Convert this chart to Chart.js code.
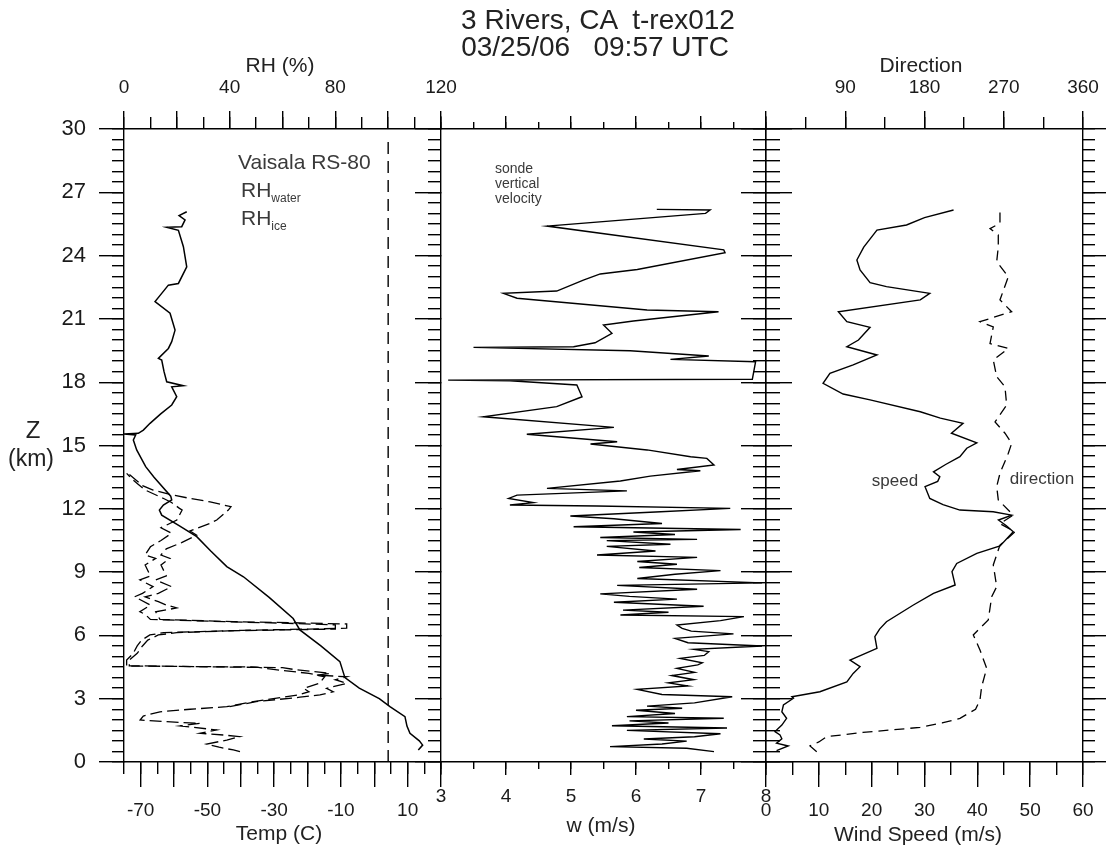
<!DOCTYPE html>
<html>
<head>
<meta charset="utf-8">
<script src="https://cdn.jsdelivr.net/npm/chart.js@4.4.1/dist/chart.umd.min.js"></script>
<style>
  body { margin: 0; background: #fff; }
  #wrap { position: relative; width: 1106px; height: 846px; font-family: "Liberation Sans", Arial, sans-serif; color: #222; }
  #wrap canvas { position: absolute; left: 0; top: 0; }
  .t { position: absolute; white-space: pre; line-height: 1; transform: translate(-50%, -50%); }
  .n { position: absolute; white-space: pre; line-height: 1; color: #3a3a3a; }
  .n sub { font-size: 12px; vertical-align: -5px; }
</style>
</head>
<body>
<div id="wrap">
  <canvas id="leftPanel" width="1106" height="846"></canvas>
  <canvas id="midPanel" width="1106" height="846"></canvas>
  <canvas id="rightPanel" width="1106" height="846"></canvas>

  <div class="t" style="left:598px;top:20px;font-size:28px;">3 Rivers, CA  t-rex012</div>
  <div class="t" style="left:595px;top:47px;font-size:28px;">03/25/06   09:57 UTC</div>
  <div class="t" style="left:280px;top:64px;font-size:21px;">RH (%)</div>
  <div class="t" style="left:921px;top:64px;font-size:21px;">Direction</div>
  <div class="t" style="left:279px;top:832px;font-size:21px;">Temp (C)</div>
  <div class="t" style="left:601px;top:824px;font-size:21px;">w (m/s)</div>
  <div class="t" style="left:918px;top:833px;font-size:21px;">Wind Speed (m/s)</div>
  <div class="t" style="left:33px;top:430px;font-size:24px;">Z</div>
  <div class="t" style="left:31px;top:458px;font-size:23px;">(km)</div>

  <div class="n" style="left:238px;top:151px;font-size:21px;">Vaisala RS-80</div>
  <div class="n" style="left:241px;top:179px;font-size:21px;">RH<sub>water</sub></div>
  <div class="n" style="left:241px;top:207px;font-size:21px;">RH<sub>ice</sub></div>
  <div class="n" style="left:495px;top:161px;font-size:14px;line-height:15px;">sonde
vertical
velocity</div>
  <div class="t" style="left:895px;top:480px;font-size:17px;color:#3a3a3a;">speed</div>
  <div class="t" style="left:1042px;top:478px;font-size:17px;color:#3a3a3a;">direction</div>
</div>

<script>
// sounding profiles: heights in km, values per series
const tempZ = [0.57, 0.8, 1.0, 1.36, 1.7, 2.15, 2.62, 3.0, 3.5, 4.0, 4.76, 5.5, 6.26, 6.8, 7.8, 8.78, 9.26, 10.0, 10.68, 11.2, 11.7, 11.94, 12.18, 12.42, 12.6, 13.5, 14.0, 14.79, 15.26, 15.5, 15.55, 15.58, 15.73, 16.05, 16.5, 16.92, 17.31, 17.78, 17.83, 18.02, 18.5, 19.05, 19.13, 19.6, 19.92, 20.47, 21.27, 21.82, 22.21, 22.6, 22.68, 23.47, 24.42, 25.2, 25.34, 25.37, 25.69, 25.9, 26.08];
const tempC = [13.2, 14.5, 13.5, 10.7, 9.8, 9.2, 4.7, 1.5, -4.5, -8.8, -10.3, -16, -22.3, -24.3, -31.5, -39.2, -44.2, -49, -53.2, -58.5, -63.7, -64.4, -63.2, -60.7, -61, -66, -68.5, -71.2, -72.2, -71.5, -75, -70.7, -69.2, -67.2, -64, -60.7, -59.2, -60.7, -57.2, -62.2, -63, -63.7, -64.7, -61.7, -60.7, -59.7, -61.2, -65.7, -63.7, -61.7, -58.7, -56.2, -57.2, -58.7, -62.2, -57.7, -56.7, -58.5, -56.2];

const rhWaterZ = [0.49, 0.57, 0.7, 0.85, 1.04, 1.2, 1.28, 1.36, 1.52, 1.71, 1.83, 1.91, 1.99, 2.18, 2.38, 2.5, 2.62, 2.86, 3.07, 3.18, 3.33, 3.49, 3.73, 4.04, 4.2, 4.39, 4.5, 4.55, 4.83, 5.15, 5.5, 5.78, 6.02, 6.13, 6.22, 6.28, 6.3, 6.5, 6.58, 6.65, 6.76, 7.0, 7.12, 7.44, 7.83, 7.99, 8.31, 8.63, 8.82, 9.34, 9.65, 9.81, 10.2, 10.5, 10.84, 11.1, 11.47, 11.94, 12.02, 12.3, 12.49, 12.89, 13.2, 13.36, 13.68];
const rhWaterPct = [43.9, 41.4, 36, 31.3, 38.9, 43.9, 37.6, 28.8, 35.1, 21.2, 28.8, 16.2, 6.1, 7.3, 13.6, 25, 38.9, 48.9, 60, 66, 70, 68, 74, 76, 70, 56.5, 50, 1.0, 1.0, 3.5, 5, 6.7, 9.8, 15, 40, 70, 80, 80, 60, 38, 10, 8, 6, 10, 4, 7, 11, 6, 10, 8, 12, 8, 10, 14, 18, 14, 20, 22, 21, 18, 15, 8, 5, 3.5, 1];

const rhIceZ = [2.62, 2.86, 3.07, 3.18, 3.33, 3.49, 3.73, 3.9, 4.04, 4.12, 4.2, 4.39, 4.47, 4.56, 4.83, 5.15, 5.5, 5.78, 6.02, 6.13, 6.24, 6.3, 6.34, 6.54, 6.6, 6.65, 6.76, 7.12, 7.3, 7.44, 7.6, 7.83, 7.99, 8.31, 8.63, 8.82, 9.34, 9.65, 9.81, 10.1, 10.4, 10.75, 10.95, 11.31, 11.47, 11.94, 12.1, 12.33, 12.49, 12.7, 12.89, 13.1, 13.36, 13.68];
const rhIcePct = [40, 50, 66.6, 74.2, 79.2, 76.7, 84.3, 80, 84.3, 72.9, 78, 64.1, 60, 2, 2, 5, 7, 9, 13, 20, 45, 70, 84.3, 84.3, 64.1, 41.4, 13.6, 12, 19.9, 16, 13, 8, 13, 18, 12, 16, 14, 17.4, 14, 16, 21.8, 27.5, 25, 32.6, 35.1, 39.5, 40.5, 32.6, 25, 17, 11, 7, 4.5, 1.5];

const satLineZ = [0, 29.4];
const satLinePct = [100, 100];

const wZ = [0.49, 0.65, 0.73, 0.85, 0.99, 1.09, 1.2, 1.34, 1.5, 1.61, 1.72, 1.85, 1.95, 2.07, 2.15, 2.3, 2.45, 2.55, 2.65, 2.8, 3.09, 3.2, 3.44, 3.6, 3.75, 3.9, 4.1, 4.25, 4.44, 4.6, 4.7, 4.91, 5.05, 5.23, 5.34, 5.5, 5.65, 5.86, 6.07, 6.2, 6.33, 6.49, 6.7, 6.89, 6.97, 7.1, 7.2, 7.38, 7.57, 7.72, 7.85, 7.97, 8.19, 8.37, 8.49, 8.7, 8.9, 9.07, 9.22, 9.37, 9.5, 9.7, 9.81, 10.0, 10.22, 10.32, 10.49, 10.55, 10.64, 10.78, 10.9, 11.02, 11.15, 11.3, 11.53, 11.66, 11.85, 12.02, 12.13, 12.18, 12.29, 12.49, 12.65, 12.85, 12.97, 13.32, 13.55, 13.8, 13.86, 14.08, 14.39, 14.47, 14.79, 15.07, 15.18, 15.53, 15.86, 16.36, 16.84, 17.31, 17.87, 18.07, 18.1, 18.14, 18.97, 19.08, 19.24, 19.49, 19.65, 19.68, 19.87, 20.32, 20.71, 20.9, 21.34, 21.42, 21.98, 22.21, 22.32, 22.84, 23.13, 23.34, 24.14, 24.27, 25.4, 26.0, 26.16, 26.19];
const wMs = [7.2, 6.78, 5.6, 6.4, 6.78, 6.12, 6.9, 7.3, 5.86, 7.4, 5.63, 6.5, 5.9, 7.35, 5.86, 6.6, 6.0, 6.71, 6.17, 6.9, 7.48, 6.4, 6.02, 6.8, 6.5, 6.89, 6.55, 6.9, 6.63, 6.95, 7.02, 6.68, 7.05, 7.12, 6.89, 7.94, 6.8, 6.6, 7.5, 6.85, 6.71, 6.63, 7.3, 7.66, 5.76, 6.5, 5.8, 7.04, 5.66, 6.63, 5.9, 5.45, 6.94, 5.71, 7.94, 6.02, 6.6, 7.3, 6.05, 6.63, 6.02, 6.94, 5.4, 6.3, 5.55, 6.53, 5.55, 6.94, 5.45, 6.6, 5.96, 7.61, 5.04, 6.4, 5.66, 4.99, 6.3, 7.45, 5.4, 4.06, 4.42, 4.04, 4.17, 5.86, 4.63, 5.76, 6.22, 6.99, 6.63, 7.2, 7.09, 6.84, 6.17, 5.3, 5.71, 4.32, 5.66, 3.65, 4.78, 5.17, 5.09, 4.06, 3.11, 7.79, 7.84, 6.53, 7.12, 5.91, 3.5, 5.04, 5.37, 5.63, 5.5, 5.96, 7.27, 6.17, 4.17, 3.96, 4.78, 5.19, 5.45, 6.02, 7.37, 7.35, 4.63, 7.07, 7.14, 6.32];

const speedZ = [0.54, 0.76, 0.89, 1.1, 1.28, 1.44, 1.75, 2.07, 2.38, 2.7, 3.02, 3.09, 3.33, 3.8, 4.2, 4.52, 4.83, 5.39, 5.94, 6.3, 6.65, 7.44, 7.99, 8.39, 9.02, 9.41, 9.89, 10.24, 10.91, 11.2, 11.47, 11.7, 11.86, 11.94, 12.2, 12.49, 13.05, 13.3, 13.52, 13.75, 14.1, 14.47, 14.87, 15.13, 15.58, 16.05, 16.3, 16.6, 17.16, 17.44, 17.95, 18.42, 18.82, 19.29, 19.68, 20.0, 20.6, 20.87, 21.34, 21.9, 22.21, 22.53, 22.72, 23.32, 23.79, 24.4, 24.98, 25.21, 25.45, 25.8, 26.16];
const speedMs = [2.0, 4.2, 2.0, 3.0, 2.65, 1.7, 3.0, 3.9, 3.0, 3.3, 5.2, 4.9, 10.2, 15.3, 16.5, 17.8, 15.9, 21.0, 20.6, 21.5, 22.8, 27.9, 31.7, 35.8, 35.2, 36.1, 39.9, 44.3, 46.8, 45.5, 44.0, 46.5, 43.0, 36.7, 33.5, 31.0, 30.1, 32.5, 32.9, 31.7, 34, 36.7, 38.0, 39.9, 35.1, 37.3, 33, 29.2, 19.7, 14.6, 10.8, 12.1, 16.5, 21.0, 15.3, 17.5, 19.7, 15.3, 13.7, 29.2, 31.0, 22.8, 19.7, 17.8, 17.2, 18.5, 20.3, 21.0, 26.6, 30, 35.5];

const dirZ = [0.49, 0.76, 0.95, 1.2, 1.4, 1.64, 1.85, 2.07, 2.5, 2.94, 3.57, 4.44, 5.31, 6.02, 6.73, 7.83, 8.31, 9.34, 10.28, 10.91, 11.3, 11.7, 12.42, 13.05, 13.68, 14.63, 15.1, 15.58, 16.12, 16.92, 17.78, 18.26, 19.05, 19.6, 19.83, 20.62, 20.87, 21.34, 21.9, 23.0, 23.71, 24.42, 24.98, 25.28, 25.53, 26.16];
const dirDeg = [57.6, 50, 60, 68.9, 110, 174.9, 200, 220.3, 238, 243, 244.9, 250.6, 243, 235.4, 252.4, 256.3, 262, 258.1, 265.7, 282.8, 265.7, 280.8, 263.8, 262, 265.7, 275.2, 279, 271.4, 260.1, 273.3, 271.4, 262, 258.1, 275.2, 254.4, 258.1, 243, 279, 265.7, 275.2, 262, 263.8, 263.8, 254.4, 265.7, 265.7];

// tick labels
const tempTicks = [-70, -60, -50, -40, -30, -20, -10, 0, 10, 20];
const tempLabels = [-70, -50, -30, -10, 10];
const rhLabels = [0, 40, 80, 120];

Chart.defaults.font.family = '"Liberation Sans", Arial, sans-serif';
Chart.defaults.color = '#1a1a1a';

function pts(zs, vs) {
  return zs.map((z, i) => ({ x: vs[i], y: z }));
}

function line(data, xId, dash, width) {
  return {
    data: data,
    xAxisID: xId,
    yAxisID: 'y',
    borderColor: '#000',
    borderWidth: width || 1.4,
    borderDash: dash || [],
    pointRadius: 0,
    tension: 0,
    fill: false,
  };
}

// axis that only draws tick marks (negative length = ticks point into the panel)
function tickAxis(position, min, max, step, len, border) {
  return {
    type: 'linear',
    position: position,
    min: min,
    max: max,
    weight: 0,
    ticks: { display: false, stepSize: step },
    grid: { drawOnChartArea: false, tickLength: len, tickWidth: 1.4, tickColor: '#000', lineWidth: 1.4 },
    border: { display: !!border, color: '#000', width: 1.4 },
    afterFit: (s) => {
      if (s.isHorizontal()) s.height = 0;
      else s.width = 0;
    },
  };
}

// axis with tick marks and labels, sized to reach the canvas edge
function labelAxis(position, min, max, step, len, size, pad, fontSize, cb) {
  return {
    type: 'linear',
    position: position,
    min: min,
    max: max,
    weight: 1,
    ticks: {
      stepSize: step,
      autoSkip: false,
      maxRotation: 0,
      minRotation: 0,
      padding: pad,
      font: { size: fontSize },
      callback: cb,
    },
    grid: { drawOnChartArea: false, tickLength: len, tickWidth: 1.4, tickColor: '#000', lineWidth: 1.4 },
    border: { display: true, color: '#000', width: 1.4 },
    afterFit: (s) => {
      if (s.isHorizontal()) s.height = size;
      else s.width = size;
      // labels at the ends must not squeeze the panel
      s.paddingLeft = 0;
      s.paddingRight = 0;
      s.paddingTop = 0;
      s.paddingBottom = 0;
    },
  };
}

const common = {
  responsive: false,
  animation: false,
  events: [],
  plugins: { legend: { display: false }, tooltip: { enabled: false } },
};

// temperature / RH panel
const tempAxis = labelAxis('bottom', -75, 20, 10, 25, 84, 12, 19, (v) => (tempLabels.includes(v) ? String(v) : ''));
tempAxis.afterBuildTicks = (s) => {
  s.ticks = tempTicks.map((v) => ({ value: v }));
};
new Chart(document.getElementById('leftPanel'), {
  type: 'line',
  data: {
    datasets: [
      line(pts(satLineZ, satLinePct), 'xRH', [12, 7], 1.4),
      line(pts(rhWaterZ, rhWaterPct), 'xRH', [12, 5], 1.3),
      line(pts(rhIceZ, rhIcePct), 'xRH', [12, 5], 1.3),
      line(pts(tempZ, tempC), 'xT', [], 1.5),
    ],
  },
  options: Object.assign({}, common, {
    layout: { autoPadding: false, padding: { left: 0, top: 0, right: 665, bottom: 0 } },
    scales: {
      y: labelAxis('left', 0, 30, 3, 25, 124, 13, 22, (v) => String(v)),
      yMinor: tickAxis('left', 0, 30, 0.5, 12),
      yIn: tickAxis('right', 0, 30, 3, -26, true),
      yInMinor: tickAxis('right', 0, 30, 0.5, -13),
      xT: tempAxis,
      xTMinor: tickAxis('bottom', -75, 20, 5, 12),
      xRH: labelAxis('top', 0, 120, 20, 18, 129, 12, 19, (v) => (rhLabels.includes(v) ? String(v) : '')),
      xRHMinor: tickAxis('top', 0, 120, 10, 12),
    },
  }),
});

// vertical velocity panel
new Chart(document.getElementById('midPanel'), {
  type: 'line',
  data: {
    datasets: [line(pts(wZ, wMs), 'xW', [], 1.4)],
  },
  options: Object.assign({}, common, {
    layout: { autoPadding: false, padding: { left: 441, top: 129, right: 340, bottom: 0 } },
    scales: {
      y: tickAxis('right', 0, 30, 3, -25, true),
      yMinor: tickAxis('right', 0, 30, 0.5, -13),
      xW: labelAxis('bottom', 3, 8, 1, 13, 84, 10, 19, (v) => String(v)),
      xWMinor: tickAxis('bottom', 3, 8, 0.5, 7),
      xTop: tickAxis('top', 3, 8, 1, 13, true),
      xTopMinor: tickAxis('top', 3, 8, 0.5, 7),
    },
  }),
});

// wind panel
new Chart(document.getElementById('rightPanel'), {
  type: 'line',
  data: {
    datasets: [
      line(pts(speedZ, speedMs), 'xS', [], 1.4),
      line(pts(dirZ, dirDeg), 'xD', [10, 6], 1.3),
    ],
  },
  options: Object.assign({}, common, {
    layout: { autoPadding: false, padding: { left: 766, top: 0, right: 23, bottom: 0 } },
    scales: {
      y: tickAxis('left', 0, 30, 3, -26, true),
      yMinor: tickAxis('left', 0, 30, 0.5, -14),
      yOut: tickAxis('right', 0, 30, 3, 25, true),
      yOutMinor: tickAxis('right', 0, 30, 0.5, 12),
      xS: labelAxis('bottom', 0, 60, 10, 25, 84, 12, 19, (v) => String(v)),
      xSMinor: tickAxis('bottom', 0, 60, 5, 13),
      xD: labelAxis('top', 0, 360, 90, 18, 129, 12, 19, (v) => (v === 0 ? '' : String(v))),
      xDMinor: tickAxis('top', 0, 360, 45, 12),
    },
  }),
});
</script>
</body>
</html>
